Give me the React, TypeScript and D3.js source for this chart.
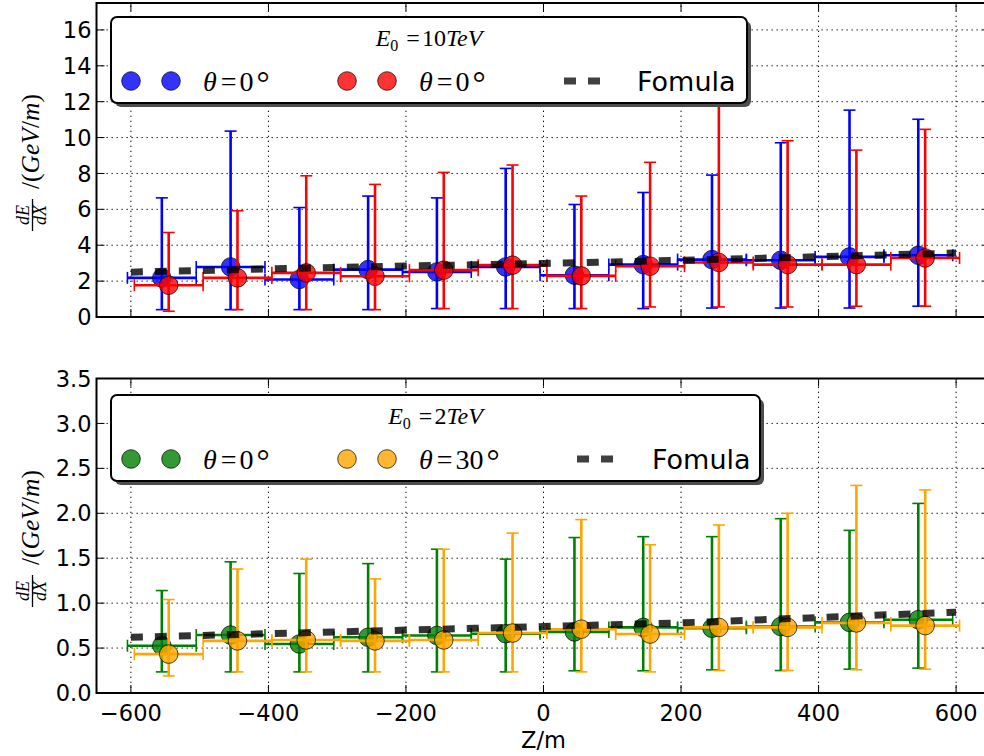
import React from "react";
import * as d3 from "d3";

// ---- axis ticks ----
const zTicks = [-600, -400, -200, 0, 200, 400, 600];
const topYTicks = [0, 2, 4, 6, 8, 10, 12, 14, 16];
const bottomYTicks = [0, 0.5, 1.0, 1.5, 2.0, 2.5, 3.0, 3.5];

// half width of each Z bin (horizontal error)
const binHalfWidth = 50;

// ---- E0 = 10 TeV ----
const zBlue10 = [-555, -455, -355, -255, -155, -55, 45, 145, 245, 345, 445, 545];
const dEBlue10 = [2.18, 2.79, 2.09, 2.64, 2.51, 2.79, 2.33, 2.92, 3.2, 3.16, 3.35, 3.44];
const hiBlue10 = [6.64, 10.36, 6.1, 6.74, 6.64, 8.28, 6.27, 6.94, 7.91, 9.71, 11.53, 11.02];
const loBlue10 = [0.41, 0.41, 0.41, 0.41, 0.47, 0.47, 0.47, 0.47, 0.5, 0.5, 0.5, 0.6];

const zRed10 = [-545, -445, -345, -245, -145, -45, 55, 155, 255, 355, 455, 555];
const dERed10 = [1.77, 2.18, 2.46, 2.27, 2.61, 2.89, 2.29, 2.83, 3.04, 2.92, 2.92, 3.29];
const hiRed10 = [4.71, 5.92, 7.87, 7.39, 8.06, 8.47, 6.74, 8.62, 12.6, 9.82, 9.3, 10.46];
const loRed10 = [0.32, 0.41, 0.41, 0.41, 0.47, 0.47, 0.47, 0.56, 0.56, 0.56, 0.6, 0.6];

// ---- E0 = 2 TeV ----
const zGreen2 = [-555, -455, -355, -255, -155, -55, 45, 145, 245, 345, 445, 545];
const dEGreen2 = [0.526, 0.645, 0.545, 0.62, 0.64, 0.66, 0.68, 0.73, 0.72, 0.74, 0.786, 0.816];
const hiGreen2 = [1.14, 1.46, 1.33, 1.44, 1.6, 1.49, 1.73, 1.74, 1.74, 1.94, 1.81, 2.11];
const loGreen2 = [0.235, 0.235, 0.235, 0.235, 0.235, 0.235, 0.247, 0.247, 0.258, 0.25, 0.265, 0.277];

const zOrange2 = [-545, -445, -345, -245, -145, -45, 55, 155, 255, 355, 455, 555];
const dEOrange2 = [0.433, 0.58, 0.59, 0.58, 0.59, 0.667, 0.71, 0.656, 0.73, 0.73, 0.78, 0.75];
const hiOrange2 = [1.04, 1.38, 1.49, 1.27, 1.6, 1.78, 1.93, 1.65, 1.87, 2.0, 2.31, 2.26];
const loOrange2 = [0.19, 0.235, 0.235, 0.235, 0.235, 0.235, 0.235, 0.235, 0.25, 0.25, 0.258, 0.265];

// ---- formula curves ----
const zFormula = [-600, -500, -400, -300, -200, -100, 0, 100, 200, 300, 400, 500, 600];
const formula10 = [2.5, 2.59, 2.68, 2.76, 2.84, 2.91, 2.98, 3.07, 3.16, 3.26, 3.36, 3.46, 3.56];
const formula2 = [0.62, 0.64, 0.66, 0.68, 0.7, 0.72, 0.74, 0.76, 0.78, 0.81, 0.84, 0.87, 0.9];

const W = 984;
const H = 756;
const SANS = "'DejaVu Sans', sans-serif";
const SERIF = "'Liberation Serif', 'DejaVu Serif', serif";

const x = d3.scaleLinear().domain([-650, 650]).range([96.5, 990.5]);
const yTop = d3.scaleLinear().domain([0, 17.5]).range([317, 3]);
const yBot = d3.scaleLinear().domain([0, 3.5]).range([693, 378.5]);

const fmtZ = (v: number) => (v < 0 ? "\u2212" + Math.abs(v) : String(v));

type Scale = d3.ScaleLinear<number, number>;

function Grid({ y, yTicks }: { y: Scale; yTicks: number[] }) {
  const [y0, y1] = y.range();
  const [x0, x1] = x.range();
  return (
    <g stroke="#000" strokeWidth={1} strokeDasharray="1.3,3.7" fill="none">
      {zTicks.map((t) => (
        <line key={"gx" + t} x1={x(t)} x2={x(t)} y1={y0} y2={y1} />
      ))}
      {yTicks.map((t) => (
        <line key={"gy" + t} x1={x0} x2={x1} y1={y(t)} y2={y(t)} />
      ))}
    </g>
  );
}

function Frame({ y, yTicks, fmt }: { y: Scale; yTicks: number[]; fmt: (v: number) => string }) {
  const [yb, yt] = y.range();
  const [x0, x1] = x.range();
  const tl = 8;
  return (
    <g>
      <g stroke="#000" strokeWidth={1}>
        {zTicks.map((t) => (
          <g key={"tx" + t}>
            <line x1={x(t)} x2={x(t)} y1={yb} y2={yb - tl} />
            <line x1={x(t)} x2={x(t)} y1={yt} y2={yt + tl} />
          </g>
        ))}
        {yTicks.map((t) => (
          <g key={"ty" + t}>
            <line x1={x0} x2={x0 + tl} y1={y(t)} y2={y(t)} />
            <line x1={x1} x2={x1 - tl} y1={y(t)} y2={y(t)} />
          </g>
        ))}
      </g>
      <rect x={x0} y={yt} width={x1 - x0} height={yb - yt} fill="none" stroke="#000" strokeWidth={2} />
      <g fontFamily={SANS} fontSize={22.5} fill="#000" textAnchor="end">
        {yTicks.map((t) => (
          <text key={"yl" + t} x={x0 - 5} y={y(t)} dy="0.36em">
            {fmt(t)}
          </text>
        ))}
      </g>
    </g>
  );
}

function ErrSeries({
  z, v, lo, hi, y, line, fill,
}: {
  z: number[]; v: number[]; lo: number[]; hi: number[]; y: Scale; line: string; fill: string;
}) {
  const cap = 6;
  return (
    <g>
      <g stroke={line} strokeWidth={2.6} fill="none">
        {z.map((zi, i) => {
          const cx = x(zi);
          const cy = y(v[i]);
          const xl = x(zi - binHalfWidth);
          const xr = x(zi + binHalfWidth);
          return (
            <g key={i}>
              <line x1={cx} x2={cx} y1={y(lo[i])} y2={y(hi[i])} />
              <line x1={cx - cap} x2={cx + cap} y1={y(hi[i])} y2={y(hi[i])} strokeWidth={1.6} />
              <line x1={cx - cap} x2={cx + cap} y1={y(lo[i])} y2={y(lo[i])} strokeWidth={1.6} />
              <line x1={xl} x2={xr} y1={cy} y2={cy} />
              <line x1={xl} x2={xl} y1={cy - cap} y2={cy + cap} strokeWidth={1.6} />
              <line x1={xr} x2={xr} y1={cy - cap} y2={cy + cap} strokeWidth={1.6} />
            </g>
          );
        })}
      </g>
      <g>
        {z.map((zi, i) => (
          <circle
            key={"m" + i}
            cx={x(zi)}
            cy={y(v[i])}
            r={9.3}
            fill={fill}
            fillOpacity={0.8}
            stroke="#000"
            strokeOpacity={0.7}
            strokeWidth={1}
          />
        ))}
      </g>
    </g>
  );
}

function FormulaLine({ vals, y }: { vals: number[]; y: Scale }) {
  const gen = d3
    .line<number>()
    .x((_, i) => x(zFormula[i]))
    .y((d) => y(d));
  return (
    <path
      d={gen(vals) || ""}
      fill="none"
      stroke="#000"
      strokeOpacity={0.8}
      strokeWidth={7}
      strokeDasharray="12,12"
    />
  );
}

function YLabel({ cx, cy }: { cx: number; cy: number }) {
  return (
    <g transform={`translate(${cx},${cy}) rotate(-90)`} fontFamily={SERIF} fill="#000">
      <text x={-55} y={-3} fontSize={18} fontStyle="italic" textAnchor="middle">
        dE
      </text>
      <line x1={-71} x2={-39} y1={0.5} y2={0.5} stroke="#000" strokeWidth={1.3} />
      <text x={-55} y={14} fontSize={18} fontStyle="italic" textAnchor="middle">
        dX
      </text>
      <text x={-29} y={7} fontSize={25.5}>
        /(<tspan fontStyle="italic">GeV</tspan>/<tspan fontStyle="italic">m</tspan>)
      </text>
    </g>
  );
}

function ThetaLabel({ x0, y0, deg }: { x0: number; y0: number; deg: string }) {
  return (
    <text x={x0} y={y0} fontFamily={SERIF} fontSize={28} fill="#000">
      <tspan fontStyle="italic">θ</tspan>
      <tspan dx={4}>=</tspan>
      <tspan dx={3}>{deg}</tspan>
      <tspan dx={3} dy={3} fontSize={33}>°</tspan>
    </text>
  );
}

function Dot({ cx, cy, fill }: { cx: number; cy: number; fill: string }) {
  return <circle cx={cx} cy={cy} r={9.3} fill={fill} fillOpacity={0.8} stroke="#000" strokeOpacity={0.7} strokeWidth={1} />;
}

function Legend({
  bx, by, bw, bh, energy, colA, colB, degA, degB, dashX, fomX,
}: {
  bx: number; by: number; bw: number; bh: number; energy: string;
  colA: string; colB: string; degA: string; degB: string; dashX: number; fomX: number;
}) {
  const rowY = by + 64;
  const baseY = by + 74;
  return (
    <g>
      <rect x={bx + 4} y={by + 4} width={bw} height={bh} rx={6} fill="#4d4d4d" />
      <rect x={bx} y={by} width={bw} height={bh} rx={6} fill="#fff" stroke="#000" strokeWidth={2} />
      <text x={bx + bw / 2} y={by + 29} fontFamily={SERIF} fontSize={24} textAnchor="middle" fill="#000">
        <tspan fontStyle="italic">E</tspan>
        <tspan fontSize={16} dy={5}>0</tspan>
        <tspan dy={-5} dx={8}>=</tspan>
        <tspan dx={2}>{energy}</tspan>
        <tspan fontStyle="italic">TeV</tspan>
      </text>
      <Dot cx={bx + 20} cy={rowY} fill={colA} />
      <Dot cx={bx + 60} cy={rowY} fill={colA} />
      <ThetaLabel x0={bx + 92} y0={baseY} deg={degA} />
      <Dot cx={bx + 236} cy={rowY} fill={colB} />
      <Dot cx={bx + 276} cy={rowY} fill={colB} />
      <ThetaLabel x0={bx + 308} y0={baseY} deg={degB} />
      <line
        x1={dashX}
        x2={dashX + 36}
        y1={rowY}
        y2={rowY}
        stroke="#000"
        strokeOpacity={0.75}
        strokeWidth={7}
        strokeDasharray="12,12"
      />
      <text x={fomX} y={baseY} fontFamily={SANS} fontSize={27} fill="#000">
        Fomula
      </text>
    </g>
  );
}

export default function App() {
  const fmtTop = (v: number) => String(v);
  const fmtBot = (v: number) => v.toFixed(1);
  return (
    <svg
      width={W}
      height={H}
      viewBox={`0 0 ${W} ${H}`}
      style={{ position: "absolute", left: 0, top: 0, background: "#fff" }}
    >
      <rect x={0} y={0} width={W} height={H} fill="#fff" />

      {/* upper panel: E0 = 10 TeV */}
      <Grid y={yTop} yTicks={topYTicks} />
      <ErrSeries z={zBlue10} v={dEBlue10} lo={loBlue10} hi={hiBlue10} y={yTop} line="#0000ff" fill="#0000ff" />
      <ErrSeries z={zRed10} v={dERed10} lo={loRed10} hi={hiRed10} y={yTop} line="#ff0000" fill="#ff0000" />
      <FormulaLine vals={formula10} y={yTop} />
      <Frame y={yTop} yTicks={topYTicks} fmt={fmtTop} />
      <Legend
        bx={111} by={17} bw={636} bh={86} energy="10"
        colA="#0000ff" colB="#ff0000" degA="0" degB="0" dashX={564} fomX={637}
      />
      <YLabel cx={32} cy={160} />

      {/* lower panel: E0 = 2 TeV */}
      <Grid y={yBot} yTicks={bottomYTicks} />
      <ErrSeries z={zGreen2} v={dEGreen2} lo={loGreen2} hi={hiGreen2} y={yBot} line="#008000" fill="#008000" />
      <ErrSeries z={zOrange2} v={dEOrange2} lo={loOrange2} hi={hiOrange2} y={yBot} line="#ffa500" fill="#ffa500" />
      <FormulaLine vals={formula2} y={yBot} />
      <Frame y={yBot} yTicks={bottomYTicks} fmt={fmtBot} />
      <Legend
        bx={111} by={395} bw={649} bh={86} energy="2"
        colA="#008000" colB="#ffa500" degA="0" degB="30" dashX={577} fomX={652}
      />
      <YLabel cx={32} cy={536} />

      {/* shared Z axis labels */}
      <g fontFamily={SANS} fontSize={22.5} fill="#000" textAnchor="middle">
        {zTicks.map((t) => (
          <text key={"xl" + t} x={x(t)} y={721}>
            {fmtZ(t)}
          </text>
        ))}
        <text x={x(0)} y={748}>Z/m</text>
      </g>
    </svg>
  );
}
